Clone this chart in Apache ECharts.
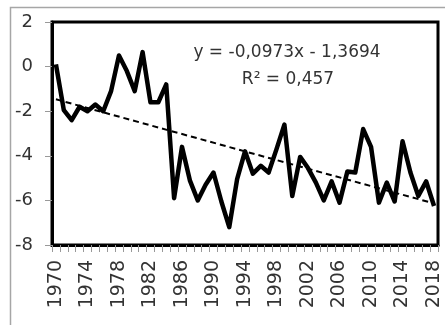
<!DOCTYPE html>
<html>
<head>
<meta charset="utf-8">
<script src="https://cdn.jsdelivr.net/npm/echarts@6/dist/echarts.min.js"></script>
<style>
  html, body { margin: 0; padding: 0; background: #fff; }
  #chart { width: 445px; height: 325px; }
</style>
</head>
<body>
<div id="chart"></div>
<script>
// Years on the horizontal axis
const years = [];
for (let y = 1970; y <= 2018; y++) years.push(String(y));

// Annual values
const values = [
  0.1, -1.95, -2.4, -1.8, -2.0, -1.7, -2.0, -1.1, 0.5, -0.2,
  -1.1, 0.65, -1.6, -1.6, -0.8, -5.9, -3.6, -5.1, -6.0, -5.3,
  -4.75, -6.05, -7.2, -5.05, -3.8, -4.8, -4.45, -4.75, -3.7, -2.6,
  -5.8, -4.05, -4.55, -5.2, -6.0, -5.15, -6.1, -4.7, -4.75, -2.8,
  -3.6, -6.1, -5.2, -6.05, -3.35, -4.75, -5.8, -5.15, -6.25
];

// Linear trend: y = slope * x + intercept, x = 1 for the first year
const slope = -0.0973;
const intercept = -1.3694;
const r2Text = '0,457';
const equationText = 'y = -0,0973x - 1,3694';

const yTicks = { min: -8, max: 2, interval: 2 };

const trendStart = slope * 1 + intercept;
const trendEnd = slope * years.length + intercept;

const chart = echarts.init(document.getElementById('chart'), null, { renderer: 'canvas' });
const font = '"DejaVu Sans", sans-serif';

chart.setOption({
  animation: false,
  backgroundColor: '#fff',
  grid: {
    left: 52, right: 7, top: 22, bottom: 80,
    show: true, borderColor: '#000', borderWidth: 3, backgroundColor: '#fff'
  },
  xAxis: {
    type: 'category',
    data: years,
    boundaryGap: true,
    axisLine: { show: true, onZero: false, lineStyle: { color: '#000', width: 3 } },
    axisTick: { show: true, interval: 0, length: 7, lineStyle: { color: '#999', width: 1 } },
    axisLabel: {
      interval: 3, rotate: 90, margin: 15,
      color: '#333', fontSize: 19, fontFamily: font
    },
    splitLine: { show: false }
  },
  yAxis: {
    type: 'value',
    min: yTicks.min, max: yTicks.max, interval: yTicks.interval,
    axisLine: { show: true, lineStyle: { color: '#000', width: 3 } },
    axisTick: { show: true, length: 7, lineStyle: { color: '#999', width: 1 } },
    axisLabel: { color: '#333', fontSize: 18, fontFamily: font, margin: 19 },
    splitLine: { show: false }
  },
  series: [
    {
      type: 'line',
      data: values,
      symbol: 'none',
      lineStyle: { color: '#000', width: 4.5, join: 'round' },
      z: 3,
      markLine: {
        silent: true,
        symbol: ['none', 'none'],
        label: { show: false },
        lineStyle: { color: '#000', width: 2, type: [6, 4] },
        data: [[
          { coord: [years[0], trendStart] },
          { coord: [years[years.length - 1], trendEnd] }
        ]]
      }
    }
  ],
  graphic: [
    {
      type: 'rect', z: -10, silent: true,
      shape: { x: 10.5, y: 7.5, width: 450, height: 340 },
      style: { fill: 'none', stroke: '#a6a6a6', lineWidth: 1.5 }
    },
    {
      type: 'text', z: 10, x: 287, y: 53,
      style: {
        text: equationText, fill: '#333', fontSize: 17, fontFamily: font,
        textAlign: 'center', textVerticalAlign: 'middle'
      }
    },
    {
      type: 'text', z: 10, x: 288, y: 80,
      style: {
        text: 'R² = ' + r2Text, fill: '#333', fontSize: 17, fontFamily: font,
        textAlign: 'center', textVerticalAlign: 'middle'
      }
    }
  ]
});
</script>
</body>
</html>
